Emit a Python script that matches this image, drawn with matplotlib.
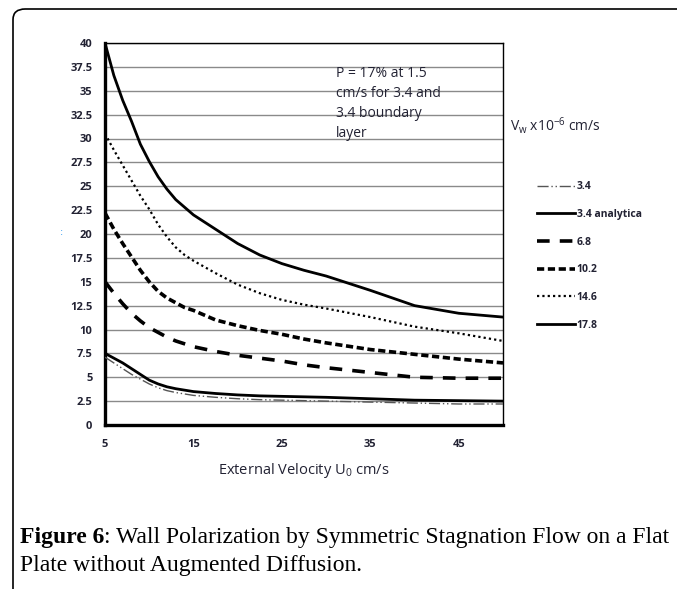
import matplotlib.pyplot as plt
from matplotlib.patches import FancyBboxPatch

# --- data ---------------------------------------------------------------------
u0 = [5, 6, 7, 8, 9, 10, 11, 12, 13, 14, 15, 17.5, 20, 22.5, 25, 27.5, 30, 35, 40, 45, 50]

p_34 = [7.1, 6.5, 5.9, 5.3, 4.8, 4.3, 3.9, 3.6, 3.4, 3.25, 3.1, 2.9, 2.75, 2.65, 2.6,
        2.55, 2.5, 2.4, 2.3, 2.2, 2.2]
p_34_analytic = [7.5, 7.0, 6.5, 5.9, 5.3, 4.7, 4.3, 4.0, 3.8, 3.65, 3.5, 3.3, 3.15, 3.05,
                 3.0, 2.95, 2.9, 2.75, 2.6, 2.55, 2.5]
p_68 = [15.0, 13.8, 12.7, 11.7, 10.9, 10.2, 9.7, 9.2, 8.8, 8.5, 8.2, 7.7, 7.3, 7.0, 6.7,
        6.3, 6.0, 5.5, 5.0, 4.9, 4.9]
p_102 = [22.2, 20.5, 19.0, 17.6, 16.2, 15.0, 14.0, 13.3, 12.8, 12.3, 12.0, 11.0, 10.4,
         9.9, 9.5, 9.0, 8.6, 7.9, 7.4, 6.9, 6.5]
p_146 = [30.5, 28.8, 27.2, 25.6, 24.0, 22.6, 21.0, 19.7, 18.6, 17.8, 17.2, 15.9, 14.7,
         13.8, 13.1, 12.6, 12.2, 11.3, 10.3, 9.6, 8.8]
p_178 = [40.0, 36.6, 34.0, 31.8, 29.4, 27.6, 26.0, 24.7, 23.6, 22.8, 22.0, 20.5, 19.0,
         17.8, 16.9, 16.2, 15.6, 14.1, 12.5, 11.7, 11.3]

labels = ["3.4", "3.4 analytica", "6.8", "10.2", "14.6", "17.8"]
xticks = [5, 15, 25, 35, 45]
yticks = [i * 2.5 for i in range(17)]

TXT = "#222233"
SANS = ["Open Sans", "DejaVu Sans"]

W, H = 677, 589
fig = plt.figure(figsize=(W / 100, H / 100), dpi=100)
ax = fig.add_axes([105 / W, 1 - 425 / H, (503 - 105) / W, (425 - 43) / H])

# page frame (rounded corner at top-left)
fig.patches.append(FancyBboxPatch((13 / W, -0.2), 1.2, 1 - 9 / H + 0.2,
                                  boxstyle="round,pad=0,rounding_size=0.018",
                                  transform=fig.transFigure, fill=False,
                                  ec="black", lw=1.2, zorder=0))

styles = [
    dict(color="#555555", lw=1.0, ls=(0, (8, 2, 1, 2, 1, 2))),
    dict(color="black", lw=2.0, ls="-"),
    dict(color="black", lw=2.6, ls=(0, (3.5, 2.8))),
    dict(color="black", lw=2.6, ls=(0, (2, 1))),
    dict(color="black", lw=1.6, ls=(0, (1, 1.4))),
    dict(color="black", lw=2.0, ls="-"),
]
series = [p_34, p_34_analytic, p_68, p_102, p_146, p_178]
handles = []
for ys, st, lab in zip(series, styles, labels):
    (h,) = ax.plot(u0, ys, label=lab, zorder=3, solid_joinstyle="round", **st)
    handles.append(h)

ax.set_xlim(5, 50)
ax.set_ylim(0, 40)
ax.set_xticks(xticks)
ax.set_yticks(yticks)
ax.set_yticklabels([f"{v:g}" for v in yticks])
ax.tick_params(length=0, labelsize=8, colors=TXT)
ax.tick_params(axis="y", pad=9)
ax.tick_params(axis="x", pad=10)
for t in ax.get_xticklabels() + ax.get_yticklabels():
    t.set_fontweight("bold")
    t.set_family(SANS)

ax.grid(axis="y", color="#8a8a8a", lw=1.0, zorder=1)
ax.spines["left"].set_linewidth(2.4)
ax.spines["bottom"].set_linewidth(2.4)
ax.spines["top"].set_linewidth(1.0)
ax.spines["right"].set_linewidth(1.0)

ax.set_xlabel(r"External Velocity U$_\mathregular{0}$ cm/s", fontsize=10.5, family=SANS,
              color=TXT, labelpad=8)

ax.text(336 / W, 1 - 66 / H, "P = 17% at 1.5\ncm/s for 3.4 and\n3.4 boundary\nlayer",
        transform=fig.transFigure, fontsize=10, family=SANS, color=TXT,
        va="top", ha="left", linespacing=1.45)

fig.text(510 / W, 1 - 125 / H, r"V$_\mathregular{w}$ x10$^\mathregular{-6}$ cm/s",
         fontsize=10, family=SANS, color=TXT, va="center", ha="left")

fig.legend(handles=handles, loc="upper left", bbox_to_anchor=(532 / W, 1 - 176 / H),
           frameon=False, borderpad=0, handlelength=3.6, handletextpad=0.2,
           labelspacing=1.6, prop=dict(family=SANS, weight="bold", size=7.5),
           labelcolor=TXT)

# stray mark at left of the chart
fig.text(60 / W, 1 - 232 / H, ":", color="#3399ee", fontsize=7, va="center")

# caption
cap_y = 1 - 537 / H
t1 = fig.text(20 / W, cap_y, "Figure 6", fontsize=17, family="Liberation Serif",
              weight="bold", va="center", ha="left")
fig.canvas.draw()
bb = t1.get_window_extent()
fig.text(bb.x1 / W, cap_y, ": Wall Polarization by Symmetric Stagnation Flow on a Flat",
         fontsize=17, family="Liberation Serif", va="center", ha="left")
fig.text(20 / W, 1 - 565 / H, "Plate without Augmented Diffusion.", fontsize=17,
         family="Liberation Serif", va="center", ha="left")

fig.savefig("out.png", dpi=100)
